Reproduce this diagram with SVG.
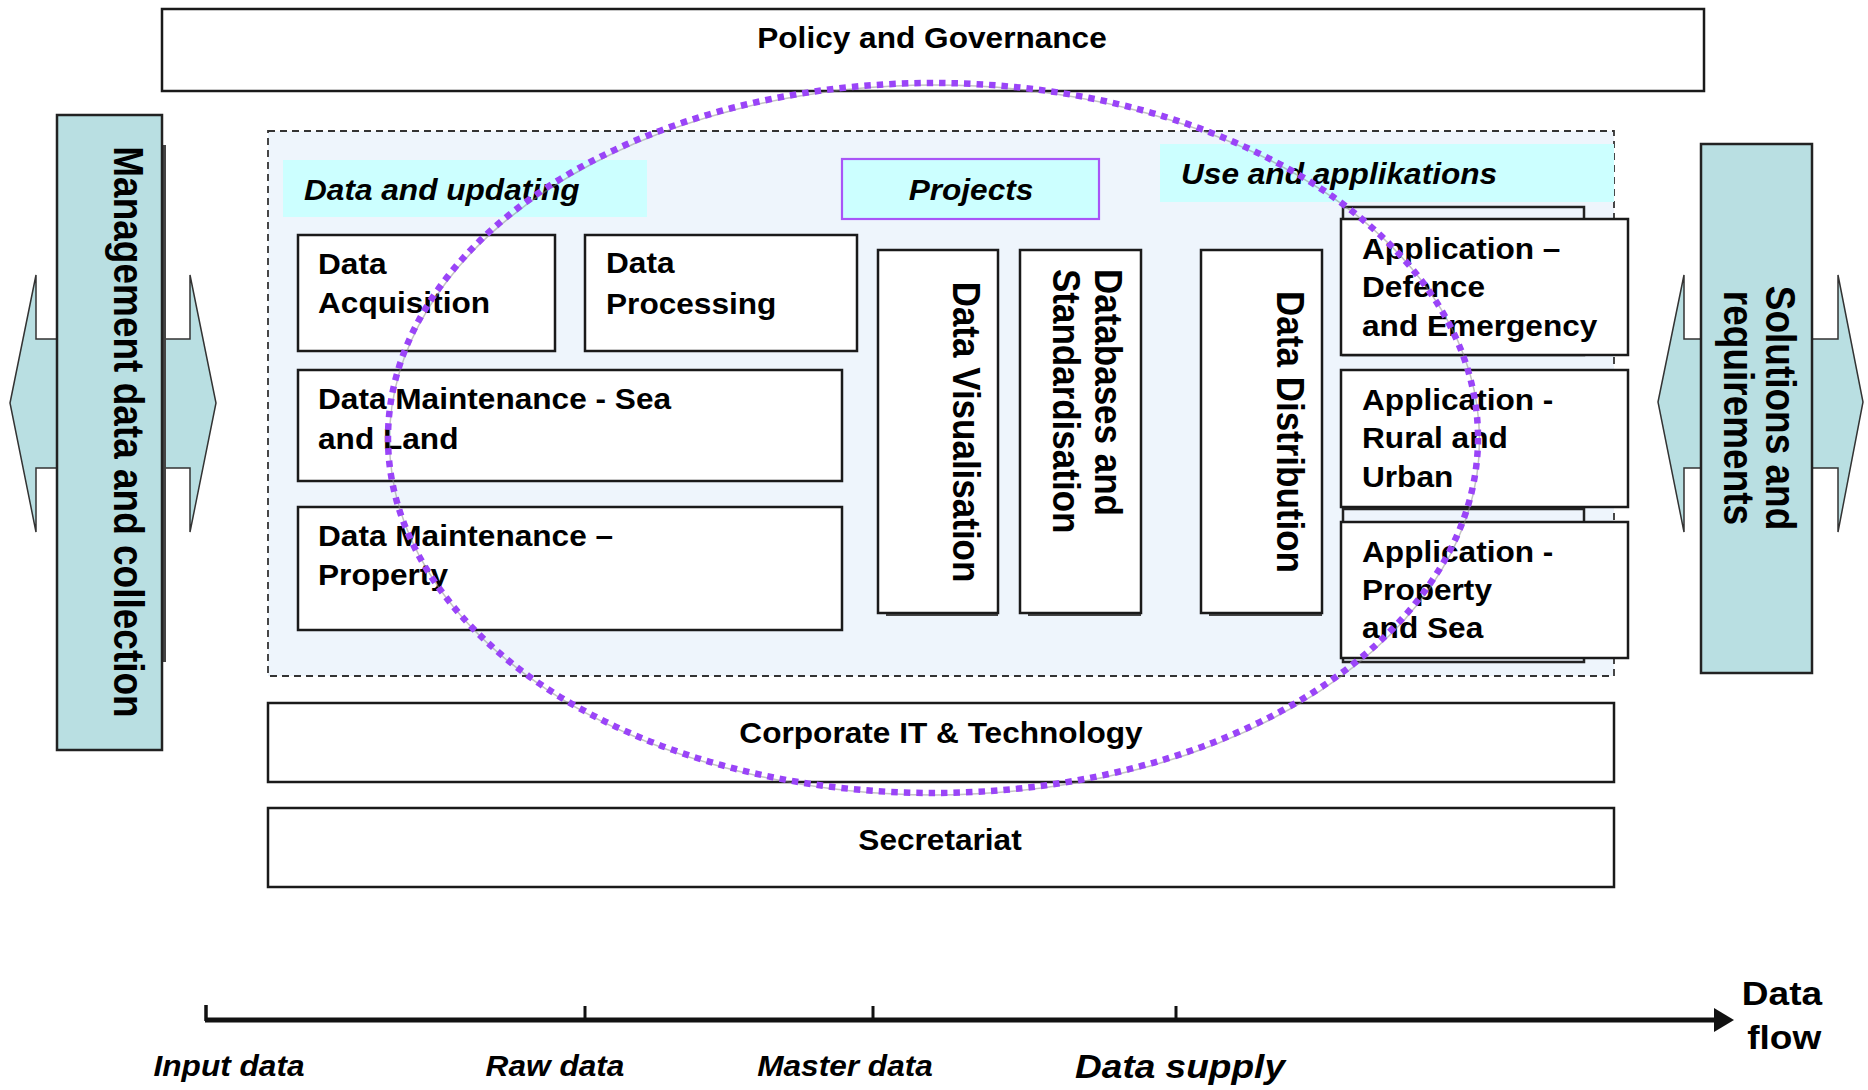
<svg xmlns="http://www.w3.org/2000/svg" width="1868" height="1090" viewBox="0 0 1868 1090">
<defs>
<style>
.box{fill:#fff;stroke:#1a1a1a;stroke-width:2.5}
.back{fill:#eef4fc;stroke:#222;stroke-width:2.5}
.hdr{fill:#ccffff}
.teal{fill:#b9dfe2;stroke:#222;stroke-width:2.5}
.arr{fill:#b9dfe2;stroke:#333;stroke-width:1.5}
.t{font-family:"Liberation Sans",Arial,sans-serif;font-weight:bold;font-size:29px;fill:#000}
.i{font-style:italic}
.v{font-size:35px}
.s{font-size:37px}
.b{font-size:34px}
.shadow{fill:#444}
</style>
</defs>
<rect width="1868" height="1090" fill="#fff"/>

<g id="policy">
<rect class="box" x="162" y="9" width="1542" height="82"/>
<text class="t" text-anchor="middle" transform="translate(932,48) scale(1.09,1)">Policy and Governance</text>
</g>

<g id="management">
<polygon class="arr" points="10,403 36,275 36,339 190,339 190,275 216,403 190,532 190,468 36,468 36,532"/>
<rect class="shadow" x="66" y="145" width="100" height="517"/>
<rect class="teal" x="57" y="115" width="105" height="635"/>
<text class="t s" text-anchor="middle" transform="translate(114,432) scale(1.13,1) rotate(90)">Management data and collection</text>
</g>

<g id="solutions">
<polygon class="arr" points="1658,402 1684,275 1684,339 1838,339 1838,275 1863,402 1838,532 1838,468 1684,468 1684,532"/>
<rect class="teal" x="1701" y="144" width="111" height="529"/>
<text class="t s" text-anchor="middle" transform="translate(1766,408) scale(1.13,1) rotate(90)"><tspan x="0" y="0">Solutions and</tspan><tspan x="0" dy="37">requirements</tspan></text>
</g>

<g id="container">
<rect x="268" y="131" width="1346" height="545" fill="#eef5fc" stroke="#333" stroke-width="1.8" stroke-dasharray="7 5"/>
</g>

<g id="data-and-updating">
<rect class="hdr" x="283" y="160" width="364" height="57"/>
<text class="t i" transform="translate(304,200) scale(1.09,1)">Data and updating</text>
</g>

<g id="projects">
<rect x="842" y="159" width="257" height="60" fill="#ccffff" stroke="#a855f7" stroke-width="2.2"/>
<text class="t i" text-anchor="middle" transform="translate(971,200) scale(1.09,1)">Projects</text>
</g>

<g id="use-and-applikations">
<rect class="hdr" x="1160" y="144" width="454" height="58"/>
<text class="t i" transform="translate(1181,184) scale(1.09,1)">Use and applikations</text>
</g>

<g id="data-acquisition">
<rect class="box" x="298" y="235" width="257" height="116"/>
<text class="t" transform="translate(318,274) scale(1.09,1)"><tspan x="0" y="0">Data</tspan><tspan x="0" dy="39">Acquisition</tspan></text>
</g>

<g id="data-processing">
<rect class="box" x="585" y="235" width="272" height="116"/>
<text class="t" transform="translate(606,273) scale(1.09,1)"><tspan x="0" y="0">Data</tspan><tspan x="0" dy="41">Processing</tspan></text>
</g>

<g id="data-maintenance-sea">
<rect class="box" x="298" y="370" width="544" height="111"/>
<text class="t" transform="translate(318,409) scale(1.09,1)"><tspan x="0" y="0">Data Maintenance - Sea</tspan><tspan x="0" dy="40">and Land</tspan></text>
</g>

<g id="data-maintenance-property">
<rect class="box" x="298" y="507" width="544" height="123"/>
<text class="t" transform="translate(318,546) scale(1.09,1)"><tspan x="0" y="0">Data Maintenance –</tspan><tspan x="0" dy="39">Property</tspan></text>
</g>

<g id="data-visualisation">
<rect class="shadow" x="886" y="253" width="112" height="363"/>
<rect class="box" x="878" y="250" width="120" height="363"/>
<text class="t v" text-anchor="middle" transform="translate(953,432) scale(1.13,1) rotate(90)">Data Visualisation</text>
</g>

<g id="databases">
<rect class="shadow" x="1028" y="253" width="113" height="363"/>
<rect class="box" x="1020" y="250" width="121" height="363"/>
<text class="t v" transform="translate(1095,269) scale(1.13,1) rotate(90)"><tspan x="0" y="0">Databases and</tspan><tspan x="0" dy="37">Standardisation</tspan></text>
</g>

<g id="data-distribution">
<rect class="shadow" x="1209" y="253" width="113" height="363"/>
<rect class="box" x="1201" y="250" width="121" height="363"/>
<text class="t v" text-anchor="middle" transform="translate(1277,432) scale(1.13,1) rotate(90)">Data Distribution</text>
</g>

<g id="app-defence">
<rect class="back" x="1343" y="207" width="241" height="148"/>
<rect class="box" x="1341" y="219" width="287" height="136"/>
<text class="t" transform="translate(1362,259) scale(1.09,1)"><tspan x="0" y="0">Application –</tspan><tspan x="0" dy="38.5">Defence</tspan><tspan x="0" dy="38.5">and Emergency</tspan></text>
</g>

<g id="app-rural">
<rect class="box" x="1341" y="370" width="287" height="137"/>
<text class="t" transform="translate(1362,410) scale(1.09,1)"><tspan x="0" y="0">Application -</tspan><tspan x="0" dy="38.5">Rural and</tspan><tspan x="0" dy="38.5">Urban</tspan></text>
</g>

<g id="app-property">
<rect class="back" x="1343" y="509" width="241" height="153"/>
<rect class="box" x="1341" y="522" width="287" height="136"/>
<text class="t" transform="translate(1362,562) scale(1.09,1)"><tspan x="0" y="0">Application -</tspan><tspan x="0" dy="38">Property</tspan><tspan x="0" dy="38.5">and Sea</tspan></text>
</g>

<g id="corporate-it">
<rect class="box" x="268" y="703" width="1346" height="79"/>
<text class="t" text-anchor="middle" transform="translate(941,743) scale(1.09,1)">Corporate IT &amp; Technology</text>
</g>

<g id="secretariat">
<rect class="box" x="268" y="808" width="1346" height="79"/>
<text class="t" text-anchor="middle" transform="translate(940,850) scale(1.09,1)">Secretariat</text>
</g>

<g id="ellipse">
<ellipse cx="934.5" cy="440" rx="545" ry="355" fill="none" stroke="#888" stroke-width="1.5" opacity="0.5"/>
<ellipse cx="933" cy="438" rx="545" ry="355" fill="none" stroke="#9a44f8" stroke-width="6.5" stroke-dasharray="6.5 6"/>
</g>

<g id="connectors">
<line x1="205" y1="1020" x2="1718" y2="1020" stroke="#111" stroke-width="5"/>
<polygon points="1714,1008 1734,1020 1714,1032" fill="#111"/>
<line x1="206" y1="1005" x2="206" y2="1021" stroke="#111" stroke-width="3.5"/>
<line x1="585" y1="1006" x2="585" y2="1021" stroke="#111" stroke-width="3"/>
<line x1="873" y1="1006" x2="873" y2="1021" stroke="#111" stroke-width="3"/>
<line x1="1176" y1="1006" x2="1176" y2="1021" stroke="#111" stroke-width="3"/>
</g>

<g id="timeline-labels">
<text class="t i" text-anchor="middle" transform="translate(229,1076) scale(1.09,1)">Input data</text>
<text class="t i" text-anchor="middle" transform="translate(555,1076) scale(1.09,1)">Raw data</text>
<text class="t i" text-anchor="middle" transform="translate(845,1076) scale(1.09,1)">Master data</text>
<text class="t i b" text-anchor="middle" transform="translate(1180,1078) scale(1.09,1)">Data supply</text>
<text class="t b" text-anchor="middle" transform="translate(1782,1005) scale(1.09,1)"><tspan x="0" y="0">Data</tspan><tspan x="2" dy="44">flow</tspan></text>
</g>
</svg>
